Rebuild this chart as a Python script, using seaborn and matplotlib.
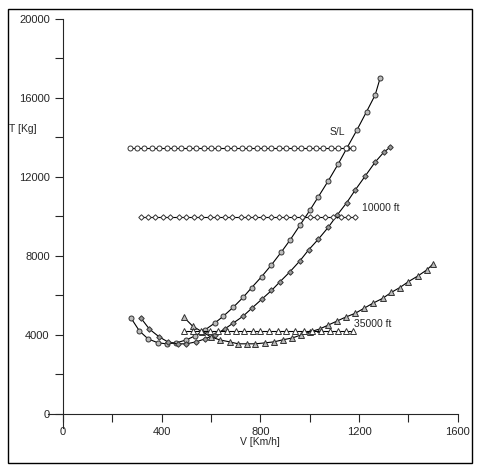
import numpy as np
import pandas as pd
import seaborn as sns
import matplotlib.pyplot as plt
from matplotlib.patches import Rectangle

# drag curves (required thrust)
v_sl = [275, 310, 345, 385, 420, 460, 500, 535, 575, 615, 650, 690, 730, 765, 805,
        845, 885, 920, 960, 1000, 1035, 1075, 1115, 1150, 1190, 1230, 1265, 1285]
t_sl = [4870, 4200, 3800, 3600, 3550, 3600, 3750, 3950, 4250, 4600, 4950, 5400, 5900, 6400,
        6950, 7550, 8200, 8800, 9550, 10300, 11000, 11800, 12650, 13450, 14350, 15300, 16150, 17000]
v_10k = [315, 350, 390, 425, 465, 500, 540, 575, 615, 655, 690, 730, 765, 805, 845, 880,
         920, 960, 995, 1035, 1075, 1110, 1150, 1185, 1225, 1265, 1300, 1325]
t_10k = [4870, 4300, 3900, 3650, 3550, 3550, 3650, 3800, 4000, 4300, 4600, 4950, 5350, 5800,
         6250, 6700, 7200, 7750, 8300, 8850, 9450, 10050, 10700, 11350, 12050, 12750, 13250, 13500]
v_35k = [490, 525, 565, 600, 635, 675, 710, 745, 780, 820, 855, 890, 930, 965, 1000, 1040,
         1075, 1110, 1145, 1185, 1220, 1255, 1295, 1330, 1365, 1400, 1440, 1475, 1500]
t_35k = [4900, 4450, 4150, 3900, 3750, 3650, 3550, 3550, 3550, 3600, 3650, 3750, 3850, 4000,
         4150, 4300, 4500, 4700, 4900, 5100, 5350, 5600, 5850, 6150, 6400, 6700, 7000, 7300, 7600]

# available thrust
v_av_sl = [270, 300, 330, 360, 390, 420, 450, 480, 510, 540, 570, 600, 630, 665, 695, 725, 755,
           785, 815, 845, 875, 905, 935, 965, 995, 1025, 1055, 1085, 1115, 1145, 1175]
v_av_10k = [315, 345, 375, 405, 435, 470, 500, 530, 560, 595, 625, 655, 685, 720, 750, 780,
            810, 845, 875, 905, 935, 970, 1000, 1030, 1060, 1095, 1125, 1155, 1185]
v_av_35k = [490, 525, 560, 595, 630, 665, 700, 735, 770, 800, 835, 870, 905, 940, 975, 1010,
            1045, 1080, 1115, 1145, 1175]
t_av = {"S/L": 13450, "10000 ft": 9950, "35000 ft": 4200}

sns.set_style("ticks")
plt.rcParams['font.family'] = ['Liberation Sans', 'DejaVu Sans']
fig = plt.figure(figsize=(4.84, 4.72), dpi=100)
ax = fig.add_axes([0.130, 0.123, 0.816, 0.837])

def curve(v, t, marker, face, size):
    sns.lineplot(x=v, y=t, ax=ax, color="black", lw=0.8, marker=marker, markersize=size,
                 markerfacecolor=face, markeredgecolor="#333333", markeredgewidth=0.7,
                 sort=False, estimator=None)

curve(v_sl, t_sl, "o", "#bbbbbb", 3.6)
curve(v_10k, t_10k, "D", "#999999", 2.8)
curve(v_35k, t_35k, "^", "#bbbbbb", 3.8)
curve(v_av_sl, [t_av["S/L"]] * len(v_av_sl), "o", "white", 3.6)
curve(v_av_10k, [t_av["10000 ft"]] * len(v_av_10k), "D", "white", 2.8)
curve(v_av_35k, [t_av["35000 ft"]] * len(v_av_35k), "^", "white", 3.8)

ax.text(1080, 14100, "S/L", fontsize=7.5)
ax.text(1210, 10250, "10000 ft", fontsize=7.5)
ax.text(1180, 4400, "35000 ft", fontsize=7.5)

ax.set_xlim(0, 1600)
ax.set_ylim(0, 20000)
ax.set_xticks(range(0, 1601, 400))
ax.set_xticks(range(0, 1601, 200), minor=True)
ax.set_yticks(range(0, 20001, 4000))
ax.set_yticks(range(0, 20001, 2000), minor=True)
ax.tick_params(labelsize=8, length=6, width=0.8)
ax.tick_params(which="minor", length=6, width=0.8)
ax.spines["bottom"].set_bounds(-60, 1600)
ax.spines["left"].set_bounds(-700, 20000)
for s in ["top", "right"]:
    ax.spines[s].set_visible(False)
ax.set_xlabel("V [Km/h]", fontsize=7.5, labelpad=0)
fig.text(0.018, 0.72, "T [Kg]", fontsize=7.5)
fig.patches.append(Rectangle((8 / 484, 9 / 472), 464 / 484, 454 / 472, transform=fig.transFigure,
                             fill=False, edgecolor="black", lw=1))
fig.savefig("out.png", dpi=100)
